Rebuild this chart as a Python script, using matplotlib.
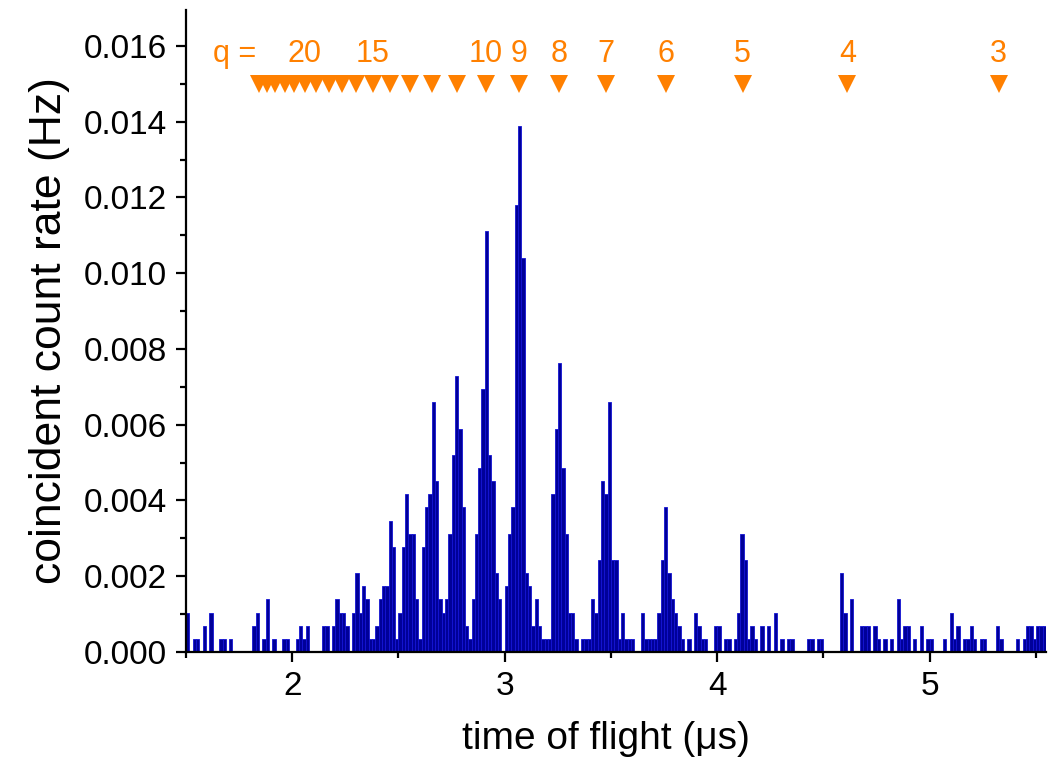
import matplotlib
matplotlib.use("Agg")
import matplotlib.pyplot as plt
from matplotlib.ticker import MultipleLocator, FormatStrFormatter
import numpy as np

plt.rcParams['font.family'] = ['Liberation Sans', 'DejaVu Sans']

# histogram: time-of-flight bins (us) and counts per bin
bin_start = 1.5
bin_width = 1 / 64
rate_per_count = 0.000347  # Hz per count

counts = [
    3, 0, 1, 1, 0, 2, 0, 3, 0, 0, 1, 1, 0, 1, 0, 0, 0, 0, 0, 0,
    2, 3, 0, 1, 4, 0, 1, 0, 0, 1, 1, 0, 0, 1, 2, 1, 2, 0, 0, 0,
    0, 2, 2, 0, 2, 4, 3, 3, 2, 0, 3, 6, 3, 5, 4, 1, 1, 2, 4, 5,
    5, 10, 8, 1, 3, 8, 12, 9, 9, 4, 1, 8, 11, 12, 19, 13, 4, 3, 4, 9,
    15, 21, 17, 11, 2, 1, 4, 9, 14, 20, 32, 15, 13, 6, 4, 0, 5, 9, 11, 34,
    40, 30, 6, 5, 2, 4, 2, 1, 1, 1, 12, 17, 22, 14, 9, 3, 3, 1, 0, 1,
    1, 1, 4, 3, 7, 13, 12, 19, 7, 7, 1, 3, 1, 1, 1, 0, 0, 3, 1, 1,
    1, 1, 3, 7, 11, 6, 4, 3, 2, 1, 0, 1, 0, 3, 2, 1, 1, 0, 0, 2,
    2, 0, 1, 1, 0, 1, 3, 9, 7, 1, 2, 1, 0, 2, 0, 2, 0, 3, 0, 1,
    0, 1, 1, 0, 0, 0, 0, 1, 1, 0, 1, 1, 0, 0, 0, 0, 0, 6, 3, 0,
    4, 0, 0, 2, 2, 2, 0, 2, 1, 0, 1, 0, 1, 0, 4, 1, 2, 2, 0, 1,
    0, 2, 0, 1, 1, 0, 0, 0, 1, 0, 3, 1, 2, 0, 1, 1, 2, 1, 0, 1,
    1, 0, 0, 0, 2, 1, 0, 0, 0, 0, 1, 0, 1, 2, 2, 1, 2, 2, 2,
]

# charge-state markers (q) and their flight times (us)
q_values = [3, 4, 5, 6, 7, 8, 9, 10, 11, 12, 13, 14, 15, 16, 17, 18, 19, 20,
            21, 22, 23, 24, 25]
q_times = [5.325, 4.612, 4.119, 3.757, 3.476, 3.255, 3.067, 2.912, 2.777,
           2.659, 2.554, 2.461, 2.378, 2.302, 2.234, 2.171, 2.113, 2.059,
           2.010, 1.964, 1.920, 1.880, 1.842]
q_labels = [3, 4, 5, 6, 7, 8, 9, 10, 15, 20]

counts = np.array(counts)
edges = bin_start + np.arange(len(counts)) * bin_width
rates = counts * rate_per_count

fig = plt.figure(figsize=(10.49, 7.62), dpi=100)
ax = fig.add_axes([0.1773, 0.1444, 0.8198, 0.8425])

ax.bar(edges, rates, width=bin_width, align='edge',
       color='#000099', edgecolor='#1414d4', linewidth=0.6)

orange = '#ff8000'
ax.plot(q_times, [0.0150] * len(q_times), linestyle='none', marker='v',
        markersize=12.5, color=orange, markeredgewidth=0)
for q, t in zip(q_values, q_times):
    if q in q_labels:
        ax.text(t, 0.01578, str(q), color=orange, fontsize=22,
                ha='center', va='center')
ax.text(1.731, 0.01578, 'q =', color=orange, fontsize=22,
        ha='center', va='center')

ax.set_xlim(bin_start, bin_start + len(counts) * bin_width)
ax.set_ylim(0, 0.01695)

ax.xaxis.set_major_locator(MultipleLocator(1))
ax.xaxis.set_minor_locator(MultipleLocator(0.5))
ax.yaxis.set_major_locator(MultipleLocator(0.002))
ax.yaxis.set_minor_locator(MultipleLocator(0.001))
ax.yaxis.set_major_formatter(FormatStrFormatter('%.3f'))

ax.spines['top'].set_visible(False)
ax.spines['right'].set_visible(False)
ax.spines['left'].set_linewidth(1.6)
ax.spines['bottom'].set_linewidth(1.6)
ax.tick_params(which='major', direction='out', length=7.5, width=1.6,
               labelsize=24, pad=6)
ax.tick_params(which='minor', direction='out', length=4.5, width=1.6)

ax.set_xlabel('time of flight (μs)', fontsize=28)
ax.xaxis.set_label_coords(0.488, -0.108)
ax.set_ylabel('coincident count rate (Hz)', fontsize=32, labelpad=10)

fig.savefig('out.png', dpi=100)
